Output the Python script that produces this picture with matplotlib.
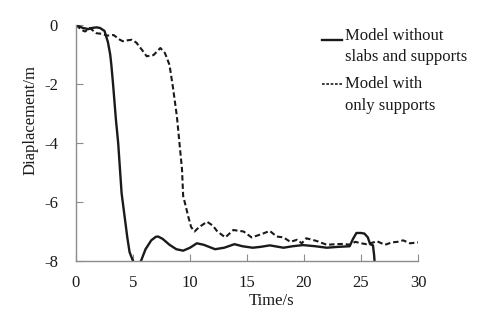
import matplotlib
matplotlib.use("Agg")
import matplotlib.pyplot as plt
from matplotlib.lines import Line2D

plt.rcParams['font.family'] = ['Liberation Serif', 'DejaVu Serif']

t_solid = [0, 0.3, 0.6, 1.1, 1.4, 1.8, 2.1, 2.5, 2.8, 3.0,
           3.1, 3.25, 3.5, 3.7, 4.0, 4.3, 4.5, 4.7, 5.0, 5.3,
           5.7, 6.1, 6.6, 7.0, 7.2, 7.6, 8.2, 8.8, 9.4, 10.0,
           10.6, 11.2, 12.2, 13.0, 13.9, 14.6, 15.5, 16.2, 17.0, 18.2,
           19.0, 19.9, 21.0, 22.0, 23.0, 24.0, 24.3, 24.6, 25.0, 25.3,
           25.6, 25.8, 26.05, 26.15, 26.3]
d_solid = [0, -0.05, -0.1, -0.14, -0.1, -0.08, -0.1, -0.2, -0.58, -1.0,
           -1.35, -2.0, -3.2, -4.0, -5.7, -6.6, -7.2, -7.7, -8.0, -8.2,
           -8.0, -7.6, -7.3, -7.18, -7.17, -7.25, -7.45, -7.6, -7.65, -7.55,
           -7.4, -7.45, -7.6, -7.55, -7.43, -7.5, -7.55, -7.52, -7.47, -7.55,
           -7.5, -7.46, -7.5, -7.55, -7.52, -7.5, -7.25, -7.05, -7.05, -7.07,
           -7.2, -7.43, -7.47, -7.8, -8.6]

t_dash = [0, 0.5, 0.8, 1.2, 1.8, 2.3, 2.7, 3.3, 3.85, 4.1,
          4.5, 4.9, 5.3, 5.8, 6.2, 6.8, 7.1, 7.4, 7.8, 8.2,
          8.5, 8.85, 9.1, 9.3, 9.4, 9.6, 9.85, 10.1, 10.4, 10.8,
          11.5, 12.0, 12.4, 13.1, 13.8, 14.7, 15.4, 16.2, 17.0, 17.6,
          18.2, 18.8, 19.4, 19.8, 20.2, 21.1, 22.0, 22.8, 23.5, 24.0,
          24.5, 25.0, 25.5, 26.0, 26.4, 27.1, 27.7, 28.2, 28.7, 29.3,
          30]
d_dash = [0, -0.17, -0.22, -0.1, -0.28, -0.3, -0.36, -0.34, -0.5, -0.55,
          -0.52, -0.5, -0.6, -0.85, -1.06, -1.02, -0.9, -0.78, -0.95, -1.35,
          -2.1, -3.1, -4.1, -4.9, -5.8, -6.1, -6.5, -6.85, -7.0, -6.85,
          -6.67, -6.8, -7.0, -7.2, -6.95, -7.0, -7.2, -7.1, -6.98, -7.17,
          -7.2, -7.35, -7.28, -7.4, -7.23, -7.32, -7.45, -7.43, -7.42, -7.45,
          -7.35, -7.4, -7.43, -7.38, -7.33, -7.45, -7.37, -7.35, -7.3, -7.4,
          -7.37]

x_ticks = [0, 5, 10, 15, 20, 25, 30]
y_ticks = [0, -2, -4, -6, -8]
label_solid = ["Model without", "slabs and supports"]
label_dash = ["Model with", "only supports"]

W, H = 480, 320
fig = plt.figure(figsize=(4.8, 3.2), dpi=100)
ax = fig.add_axes([76 / W, 1 - 261 / H, (418 - 76) / W, (261 - 25) / H])

ax.plot(t_solid, d_solid, color='#1a1a1a', lw=1.7, solid_joinstyle='round')
ax.plot(t_dash, d_dash, color='#1a1a1a', lw=1.5, linestyle=(0, (2.6, 1.4)))

ax.set_xlim(0, 30)
ax.set_ylim(-8, 0)
ax.set_xticks(x_ticks)
ax.set_yticks(y_ticks)
ax.set_xticklabels([str(v) for v in x_ticks])
ax.set_yticklabels([str(v) for v in y_ticks])

for s in ['top', 'right']:
    ax.spines[s].set_visible(False)
for s in ['left', 'bottom']:
    ax.spines[s].set_color('#8c8c8c')
    ax.spines[s].set_linewidth(1.0)
ax.tick_params(axis='both', direction='in', length=5, color='#8c8c8c',
               labelsize=12, labelcolor='#1a1a1a')
ax.tick_params(axis='y', pad=13)
ax.tick_params(axis='x', pad=10)

ax.set_ylabel('Diaplacement/m', fontsize=12, color='#1a1a1a')
ax.yaxis.set_label_coords(-0.111, (261 - 120) / (261 - 25))
ax.set_xlabel('Time/s', fontsize=12, color='#1a1a1a')
ax.xaxis.set_label_coords((272 - 76) / (418 - 76), -0.135)

# legend (manual, no frame)
def fx(px):
    return px / W
def fy(py):
    return 1 - py / H

fig.add_artist(Line2D([fx(322), fx(342)], [fy(40), fy(40)], color='#1a1a1a',
                      lw=1.7, transform=fig.transFigure))
fig.add_artist(Line2D([fx(322), fx(342)], [fy(84), fy(84)], color='#1a1a1a',
                      lw=1.2, linestyle=(0, (1.6, 1.0)), transform=fig.transFigure))
fig.text(fx(345), fy(36), label_solid[0], fontsize=12, va='center', ha='left', color='#1a1a1a')
fig.text(fx(345), fy(57), label_solid[1], fontsize=12, va='center', ha='left', color='#1a1a1a')
fig.text(fx(345), fy(84), label_dash[0], fontsize=12, va='center', ha='left', color='#1a1a1a')
fig.text(fx(345), fy(106), label_dash[1], fontsize=12, va='center', ha='left', color='#1a1a1a')

fig.savefig('out.png', dpi=100)
